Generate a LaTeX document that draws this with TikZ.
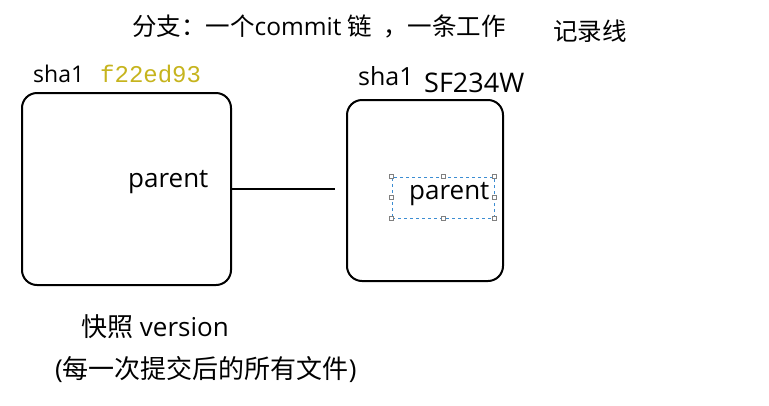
\documentclass[tikz,border=0pt]{standalone}
\usepackage{fontspec}
\setmainfont{Open Sans}
\newfontfamily\cjk{Noto Sans CJK SC}
\newfontfamily\hashfont{Liberation Mono}
\usetikzlibrary{positioning}
\definecolor{hashcol}{HTML}{C6B41E}
\definecolor{selcol}{HTML}{3C8DD2}
\tikzset{x=1pt,y=-1pt,
  every node/.style={inner sep=0pt,anchor=base west},
  commit/.style={draw,line width=2pt,rounded corners=15pt,anchor=center},
  link/.style={draw,line width=2pt,shorten >=11pt},
  sel/.style={draw=selcol,dashed,line width=.7pt,anchor=center},
  handle/.style={draw=gray,fill=white,line width=.5pt,minimum size=4pt,anchor=center}}
\newcommand{\fs}[1]{\fontsize{#1}{#1}\selectfont}

\begin{document}
\begin{tikzpicture}
\useasboundingbox (0,0) rectangle (769,405);
% title
\node[font=\fs{24.5}] (title) at (132,35) {{\cjk 分支：一个}commit {\cjk 链\hspace{11pt}，一条工作}};
\node[font=\fs{24.5}] (title2) at (553,40) {\cjk 记录线};
% commits
\node[commit,minimum width=209pt,minimum height=192pt] (c1) at (126.5,189) {};
\node[commit,minimum width=156pt,minimum height=181pt] (c2) at (425,190.5) {};
\node[font=\fs{23}] (sha1) at (33,82) {sha1};
\node[font=\fs{24},text=hashcol] (hash1) at (100,82) {\hashfont f22ed93};
\node[font=\fs{25}] (sha2) at (358,85) {sha1};
\node[font=\fs{27}] (hash2) at (424,92) {SF234W};
\node[font=\fs{26}] (p1) at (128,187) {parent};
\node[sel,minimum width=102pt,minimum height=41pt] (box) at (443,197.5) {};
\foreach \a [count=\i] in {north west,north,north east,east,south east,south,south west,west}
  \node[handle] (h\i) at (box.\a) {};
\node[font=\fs{26}] (p2) at (409,199) {parent};
\draw[link] (c1.east) -- (c1.east -| c2.west);
% snapshot
\node[font=\fs{26}] (snap) at (81,336) {{\cjk 快照} version};
\node[font=\fs{26}] (files) at (55,378) {({\cjk 每一次提交后的所有文件})};
\end{tikzpicture}
\end{document}
